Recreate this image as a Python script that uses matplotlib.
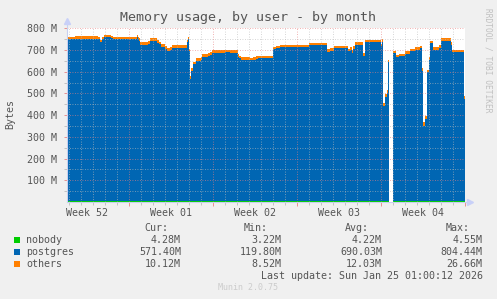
import numpy as np
import matplotlib
matplotlib.use('Agg')
import matplotlib.pyplot as plt
from matplotlib.patches import Rectangle

# time in days since Mon Dec 29 2025 00:00 (start of Week 01), values in MB
t = [-5.19, -4.53, -3.44, -2.61, -2.44, -2.28, -2.11, -1.53, -1.36, 0.64,
     0.73, 0.81, 0.89, 1.56, 1.73, 2.31, 2.48, 2.64, 2.98, 3.14,
     3.39, 3.56, 4.81, 4.89, 4.98, 5.06, 5.14, 5.31, 5.56, 5.98,
     6.06, 6.56, 6.73, 6.89, 7.56, 7.98, 8.39, 9.06, 9.14, 9.31,
     10.06, 10.31, 10.56, 10.73, 11.98, 12.23, 12.56, 14.98, 16.48, 16.73,
     17.06, 18.23, 18.39, 18.56, 18.64, 18.81, 19.48, 19.64, 20.98, 21.06,
     21.14, 21.31, 21.48, 21.56, 21.64, 21.65, 21.98, 22.23, 22.48, 22.98,
     23.39, 23.81, 24.23, 24.39, 24.48, 24.64, 24.81, 24.98, 25.06, 25.31,
     25.81, 25.98, 26.81, 26.89, 27.89, 28.0]
postgres = [745, 748, 747, 745, 731, 745, 757, 752, 745, 755,
            745, 738, 720, 724, 739, 730, 722, 711, 700, 693,
            698, 705, 731, 745, 690, 565, 600, 630, 645, 650,
            665, 670, 675, 683, 680, 685, 680, 665, 658, 652,
            648, 650, 655, 657, 700, 705, 708, 720, 688, 693,
            703, 690, 697, 684, 700, 720, 670, 731, 712, 735,
            440, 480, 500, 640, 640, np.nan, 680, 662, 667, 678,
            690, 698, 705, 600, 347, 380, 594, 650, 726, 696,
            705, 739, 720, 685, 470, 470]
others = [12, 12, 12, 12, 12, 12, 9, 10, 12, 12,
          12, 12, 12, 12, 12, 12, 12, 12, 12, 12,
          12, 12, 12, 10, 12, 14, 12, 12, 12, 12,
          12, 13, 13, 14, 14, 13, 14, 13, 12, 12,
          12, 12, 12, 12, 11, 11, 11, 10, 12, 12,
          12, 12, 12, 12, 12, 12, 12, 11, 12, 10,
          14, 12, 12, 12, 12, np.nan, 12, 12, 12, 12,
          12, 11, 11, 12, 18, 14, 12, 12, 10, 12,
          12, 10, 12, 12, 12, 12]
nobody = [4.3, 4.3, 4.3, 4.2, 4.2, 4.2, 4.2, 4.2, 4.2, 4.2,
          4.2, 4.2, 4.2, 4.2, 4.2, 4.2, 4.2, 4.2, 4.2, 4.2,
          4.2, 4.2, 4.2, 4.2, 4.2, 3.2, 4.1, 4.2, 4.2, 4.2,
          4.2, 4.2, 4.2, 4.2, 4.2, 4.2, 4.2, 4.2, 4.2, 4.2,
          4.2, 4.2, 4.2, 4.2, 4.2, 4.2, 4.2, 4.2, 4.2, 4.2,
          4.2, 4.2, 4.2, 4.2, 4.2, 4.2, 4.2, 4.2, 4.2, 4.2,
          4.2, 4.2, 4.2, 4.2, 4.2, np.nan, 4.2, 4.2, 4.2, 4.2,
          4.2, 4.2, 4.2, 4.2, 4.2, 4.2, 4.2, 4.2, 4.3, 4.3,
          4.3, 4.3, 4.3, 4.3, 4.3, 4.3]

week_labels = ['Week 52', 'Week 01', 'Week 02', 'Week 03', 'Week 04']
week_centers = [-3.5, 3.5, 10.5, 17.5, 24.5]
series_names = ['nobody', 'postgres', 'others']
series_colors = ['#00CC00', '#0066B3', '#FF8000']
cur = ['4.28M', '571.40M', '10.12M']
mins = ['3.22M', '119.80M', '8.52M']
avg = ['4.22M', '690.03M', '12.03M']
maxs = ['4.55M', '804.44M', '26.66M']

W, H = 497, 299
TXT = '#555555'
MONO = 'DejaVu Sans Mono'


def fx(x):
    return x / W


def fy(y):
    return 1 - y / H


fig = plt.figure(figsize=(W / 100, H / 100), dpi=100, facecolor='#F0F0F0')
ax = fig.add_axes([fx(67), fy(202), 398.3 / W, 173.7 / H])
ax.set_facecolor('white')

t = np.array(t)
nb = np.array(nobody)
pg = nb + np.array(postgres)
ot = pg + np.array(others)
ax.fill_between(t, 0, nb, step='post', color=series_colors[0], lw=0, zorder=1)
ax.fill_between(t, nb, pg, step='post', color=series_colors[1], lw=0, zorder=1)
ax.fill_between(t, pg, ot, step='post', color=series_colors[2], lw=0, zorder=1)

ax.set_xlim(-5.19, 28.0)
ax.set_ylim(0, 800)

# rrdtool style grid, drawn above the areas
for d in range(-5, 28):
    if d % 7 != 0:
        ax.axvline(d, color='#bbbbbb', lw=0.6, ls=(0, (1, 2)), alpha=0.8, zorder=2)
for d in [0, 7, 14, 21, 28]:
    ax.axvline(d, color='#e88080', lw=0.6, ls=(0, (1, 2)), alpha=0.8, zorder=2)
for v in range(50, 800, 100):
    ax.axhline(v, color='#bbbbbb', lw=0.6, ls=(0, (1, 2)), alpha=0.8, zorder=2)
for v in range(100, 801, 100):
    ax.axhline(v, color='#e88080', lw=0.6, ls=(0, (1, 2)), alpha=0.8, zorder=2)

for s in ['top', 'right']:
    ax.spines[s].set_visible(False)
for s in ['left', 'bottom']:
    ax.spines[s].set_color('#c8d0f0')
    ax.spines[s].set_linewidth(0.8)
    ax.spines[s].set_zorder(3)
ax.plot([0, 0], [1, 1.035], transform=ax.transAxes, color='#c8d0f0', lw=0.8, clip_on=False)
ax.plot([1, 1.01], [0, 0], transform=ax.transAxes, color='#c8d0f0', lw=0.8, clip_on=False)
ax.plot(0, 1.04, '^', transform=ax.transAxes, color='#c8d0f8', ms=4, clip_on=False)
ax.plot(1.013, 0, '>', transform=ax.transAxes, color='#c8d0f8', ms=4, clip_on=False)

ax.set_xticks([0, 7, 14, 21, 28])
ax.set_xticks([d for d in range(-5, 28) if d % 7 != 0], minor=True)
ax.set_xticklabels([])
ax.tick_params(axis='x', which='major', length=3, color='#e88080', width=0.6)
ax.tick_params(axis='x', which='minor', length=2, color='#bbbbbb', width=0.6)
for lab, c in zip(week_labels, week_centers):
    ax.text(c, -0.062, lab, ha='center', va='center', fontsize=7.2, family=MONO,
            color=TXT, transform=ax.get_xaxis_transform())

ax.set_yticks(range(100, 801, 100))
ax.set_yticklabels([f'{v} M' for v in range(100, 801, 100)])
ax.set_yticks(range(50, 800, 100), minor=True)
ax.tick_params(axis='y', which='major', length=2, color='#e88080', width=0.6,
               labelsize=7.2, labelcolor=TXT, pad=5)
ax.tick_params(axis='y', which='minor', length=2, color='#bbbbbb', width=0.6)
for lab in ax.get_yticklabels():
    lab.set_family(MONO)

fig.text(fx(247.5), fy(18), 'Memory usage, by user - by month', ha='center', va='center',
         fontsize=9.6, family=MONO, color=TXT)
fig.text(fx(10), fy(114), 'Bytes', ha='center', va='center', rotation=90,
         fontsize=7.2, family=MONO, color=TXT)
fig.text(fx(488), fy(60), 'RRDTOOL / TOBI OETIKER', ha='center', va='center', rotation=270,
         fontsize=5.7, family=MONO, color='#c0c0c0')

# legend table
for lab, xr in zip(['Cur:', 'Min:', 'Avg:', 'Max:'], [168, 268, 369, 470]):
    fig.text(fx(xr), fy(228), lab, ha='right', va='center', fontsize=7.2, family=MONO, color=TXT)
for i, name in enumerate(series_names):
    yr = 240 + 12 * i
    fig.patches.append(Rectangle((fx(14), fy(yr + 3)), 6 / W, 6 / H, transform=fig.transFigure,
                                 facecolor=series_colors[i], edgecolor='none'))
    fig.text(fx(26), fy(yr), name, ha='left', va='center', fontsize=7.2, family=MONO, color=TXT)
    for val, xr in zip([cur[i], mins[i], avg[i], maxs[i]], [181, 281.7, 382, 482.7]):
        fig.text(fx(xr), fy(yr), val, ha='right', va='center', fontsize=7.2, family=MONO, color=TXT)

fig.text(fx(482.7), fy(275.7), 'Last update: Sun Jan 25 01:00:12 2026', ha='right', va='center',
         fontsize=7.2, family=MONO, color=TXT)
fig.text(fx(248), fy(288), 'Munin 2.0.75', ha='center', va='center',
         fontsize=6, family=MONO, color='#cccccc')

fig.savefig('out.png', dpi=100, facecolor=fig.get_facecolor())
